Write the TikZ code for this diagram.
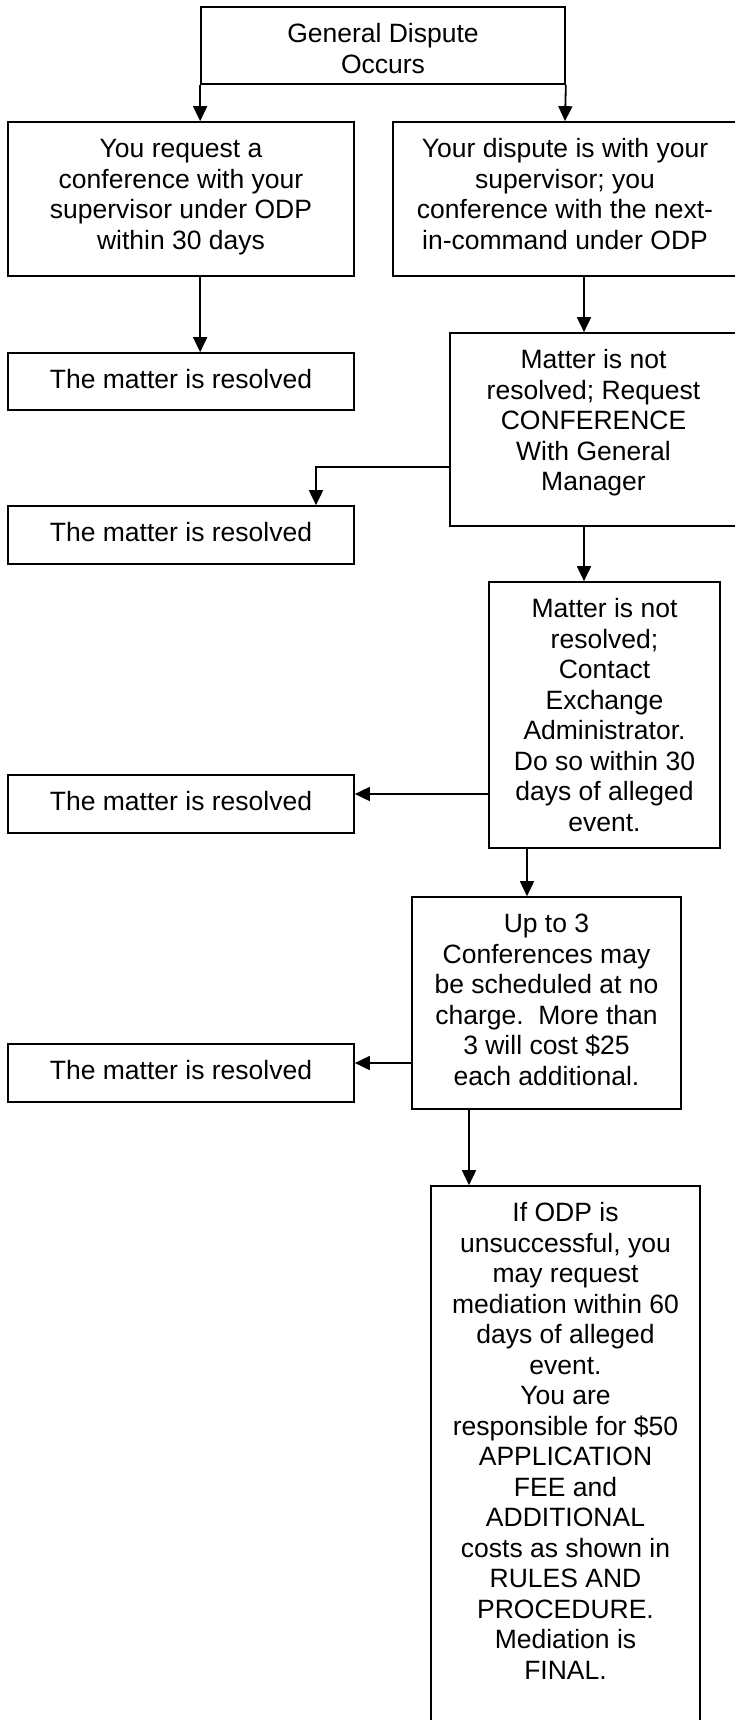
\documentclass[tikz,border=0pt]{standalone}
\usepackage{fontspec}
\setmainfont{Liberation Sans}
\usetikzlibrary{arrows.meta}
\frenchspacing

\newcommand{\boxtext}[3]{\parbox[c][#2pt][t]{#1pt}{\centering\strut #3}}

\begin{document}
\begin{tikzpicture}[
		x=1pt, y=-1pt,
		box/.style={
			draw, line width=1.7pt, rectangle,
			inner xsep=0pt, inner ysep=14.5pt,
			font=\fontsize{26.5}{30.5}\selectfont
		},
		arr/.style={-{Triangle[length=15pt,width=14pt]}, line width=1.8pt},
		]
		
		\path[use as bounding box, fill=white] (0,0) rectangle (735,1720);
		
		\node[box] (top)  at (383, 45.5) {\boxtext{364}{48}{General Dispute\\Occurs}};
		
		\node[box] (ask)  at (181, 199) {\boxtext{346}{125}{You request a\\conference with your\\supervisor under ODP\\within 30 days}};
		\node[box] (next) at (565, 199) {\boxtext{344}{125}{Your dispute is with your\\supervisor; you\\conference with the next-\\in-command under ODP}};
		
		\node[box] (res1) at (181, 381.5) {\boxtext{346}{28}{The matter is resolved}};
		\node[box] (gm)   at (593.5, 429.5) {\boxtext{287}{164}{Matter is not\\resolved; Request\\CONFERENCE\\With General\\Manager}};
		\node[box] (res2) at (181, 535) {\boxtext{346}{29}{The matter is resolved}};
		
		\node[box] (admin) at (604.5, 715) {\boxtext{231}{237}{Matter is not\\resolved;\\Contact\\Exchange\\Administrator.\\Do so within 30\\days of alleged\\event.}};
		\node[box] (res3)  at (181, 804) {\boxtext{346}{29}{The matter is resolved}};
		
		\node[box] (fee)  at (546.5, 1003) {\boxtext{269}{183}{Up to 3\\Conferences may\\be scheduled at no\\charge.\ \ More than\\3 will cost \$25\\each additional.}};
		\node[box] (res4) at (181, 1073) {\boxtext{346}{29}{The matter is resolved}};
		
		\node[box] (med)  at (565.5, 1465.5) {\boxtext{269}{530}{If ODP is\\unsuccessful, you\\may request\\mediation within 60\\days of alleged\\event.\\You are\\responsible for \$50\\APPLICATION\\FEE and\\ADDITIONAL\\costs as shown in\\RULES AND\\PROCEDURE.\\Mediation is\\FINAL.}};
		
		\coordinate (spine) at (584, 0);
		\coordinate (bend)  at (316, 467);
		\coordinate (r3)    at ([yshift=10pt]res3.east);
		\coordinate (r4)    at ([yshift=10pt]res4.east);
		\coordinate (c4)    at ([xshift=-19.5pt]fee.north);
		\coordinate (c5)    at ([xshift=-96.5pt]med.north);
		
		\draw[arr] (top.south west) -- (top.south west |- ask.north);
		\draw[arr] (top.south east) -- (next.north);
		\draw[arr] (ask.south -| top.south west) -- (res1.north -| top.south west);
		\draw[arr] (next.south -| spine) -- (gm.north -| spine);
		\draw[arr] (gm.west |- bend) -| (res2.north -| bend);
		\draw[arr] (gm.south -| spine) -- (admin.north -| spine);
		\draw[arr] (admin.west |- r3) -- (r3);
		\draw[arr] (admin.south -| c4) -- (c4);
		\draw[arr] (fee.west |- r4) -- (r4);
		\draw[arr] (fee.south -| c5) -- (c5);
		
	\end{tikzpicture}
\end{document}
